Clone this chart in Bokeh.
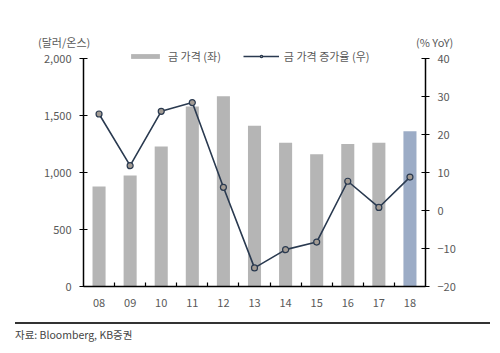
from bokeh.plotting import figure
from bokeh.models import (ColumnDataSource, FactorRange, Range1d, LinearAxis, CategoricalAxis,
                          FixedTicker, NumeralTickFormatter, Legend, LegendItem, Div)
from bokeh.layouts import column
from bokeh.embed import file_html
from bokeh.resources import INLINE

years = ["08", "09", "10", "11", "12", "13", "14", "15", "16", "17", "18"]
price = [877, 974, 1228, 1580, 1669, 1411, 1260, 1160, 1251, 1260, 1362]
growth = [25.4, 11.8, 26.1, 28.4, 6.1, -15.1, -10.3, -8.3, 7.7, 0.8, 8.8]
bar_colors = ["#b5b5b5"] * 10 + ["#9cacc6"]
left_ticks = [0, 500, 1000, 1500, 2000]
right_ticks = [-20, -10, 0, 10, 20, 30, 40]
left_title = "(달러/온스)"
right_title = "(% YoY)"

FONT = "Noto Sans CJK KR"
TXT = "#595959"

HEADER_H = 48
FIG_H = 274
BORDER_B = 36
AXIS_PX = 228            # pixel height of the 0..2000 / -20..40 axis span
FRAME_H = FIG_H - BORDER_B
stretch = FRAME_H / AXIS_PX

src = ColumnDataSource(dict(x=years, price=price, growth=growth, color=bar_colors))

# boundary factors between consecutive years (for the small separator ticks)
bounds = [a + "|" + b for a, b in zip(years[:-1], years[1:])]

lmin, lmax = left_ticks[0], left_ticks[-1]
rmin, rmax = right_ticks[0], right_ticks[-1]

p = figure(width=500, height=FIG_H, x_range=FactorRange(*years),
           y_range=Range1d(lmin, lmin + (lmax - lmin) * stretch),
           output_backend="svg", toolbar_location=None,
           x_axis_location=None, y_axis_location=None,
           min_border_left=83, min_border_right=75, min_border_top=0, min_border_bottom=BORDER_B)
p.extra_y_ranges = {"pct": Range1d(rmin, rmin + (rmax - rmin) * stretch)}
p.extra_x_ranges = {"bnd": FactorRange(*bounds, range_padding=0.5, range_padding_units="absolute")}
p.outline_line_color = None
p.xgrid.visible = False
p.ygrid.visible = False

bars = p.vbar(x="x", top="price", width=0.42, source=src, fill_color="color", line_color=None)
ln = p.line(x="x", y="growth", source=src, y_range_name="pct", line_color="#2a3a50", line_width=1.6)
sc = p.scatter(x="x", y="growth", source=src, y_range_name="pct", size=6,
               fill_color="#a39b93", line_color="#2a3a50", line_width=1.2)

def style_axis(ax):
    ax.axis_line_color = "black"
    ax.axis_line_width = 1.5
    ax.major_tick_line_color = "black"
    ax.major_tick_line_width = 1.2
    ax.minor_tick_line_color = None
    ax.major_label_text_font = FONT
    ax.major_label_text_font_size = "11px"
    ax.major_label_text_color = TXT

yl = LinearAxis(ticker=FixedTicker(ticks=left_ticks), formatter=NumeralTickFormatter(format="0,0"),
                bounds=(lmin, lmax))
style_axis(yl)
yl.major_tick_in = 4
yl.major_tick_out = 4
yl.major_label_standoff = 8
p.add_layout(yl, "left")

yr = LinearAxis(y_range_name="pct", ticker=FixedTicker(ticks=right_ticks), bounds=(rmin, rmax))
style_axis(yr)
yr.major_tick_in = 4
yr.major_tick_out = 4
yr.major_label_standoff = 8
p.add_layout(yr, "right")

xt = CategoricalAxis(x_range_name="bnd")
style_axis(xt)
xt.major_tick_in = 4
xt.major_tick_out = 0
xt.major_label_text_font_size = "1px"
xt.major_label_text_color = None
xt.major_label_standoff = 0
p.add_layout(xt, "below")

xc = CategoricalAxis()
style_axis(xc)
xc.axis_line_color = None
xc.major_tick_line_color = None
xc.major_label_standoff = 6
p.add_layout(xc, "below")

legend = Legend(items=[LegendItem(label="금 가격 (좌)", renderers=[bars], index=0),
                       LegendItem(label="금 가격 증가율 (우)", renderers=[ln, sc])],
                orientation="horizontal", location=(44, FRAME_H - 16),
                glyph_width=36, glyph_height=6, spacing=22, padding=0, margin=0, label_height=12,
                label_text_font=FONT, label_text_font_size="11px", label_text_color=TXT,
                label_standoff=5, border_line_color=None, background_fill_alpha=0)
p.add_layout(legend)

header_html = (
    '<div style="position:relative;width:500px;height:' + str(HEADER_H) + 'px;'
    'font-family:' + FONT + ';font-size:11px;color:' + TXT + ';line-height:12px">'
    '<span style="position:absolute;left:38px;top:36px;white-space:nowrap">' + left_title + '</span>'
    '<span style="position:absolute;left:416px;top:36px;white-space:nowrap">' + right_title + '</span>'
    '</div>'
)
header = Div(width=500, height=HEADER_H, margin=0, text=header_html)

footer = Div(text="자료: Bloomberg, KB증권", width=475, height=31, margin=(0, 0, 0, 15),
             styles={"border-top": "2px solid #333", "font-family": FONT, "font-size": "10.5px",
                     "color": "#444", "padding-top": "3px", "box-sizing": "border-box"})

layout = column(header, p, footer, spacing=0)
open("out.html", "w").write(file_html(layout, INLINE))
